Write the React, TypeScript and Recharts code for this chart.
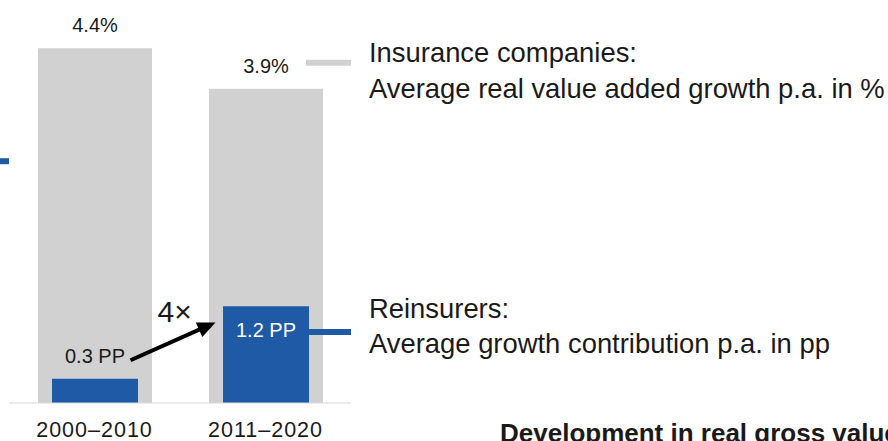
import { BarChart, Bar, XAxis, YAxis, LabelList, ReferenceLine } from 'recharts'

const periods = ['2000–2010', '2011–2020']
const insuranceGrowth = [4.4, 3.9]
const reinsurerContribution = [0.3, 1.2]
const growthMultiple = '4×'
const insuranceLegend = ['Insurance companies:', 'Average real value added growth p.a. in %']
const reinsurerLegend = ['Reinsurers:', 'Average growth contribution p.a. in pp']
const title = 'Development in real gross value added'

const data = periods.map((period, i) => ({
  period,
  insurance: insuranceGrowth[i],
  reinsurers: reinsurerContribution[i],
}))

const GRAY = '#d1d1d1'
const BLUE = '#1f5aa6'
const INK = '#1a1a1a'
const FONT = '"Liberation Sans", Arial, sans-serif'

// leader line levels, in axis units
const insuranceLeaderY = 4.22
const reinsurerLeaderY = 0.88
const edgeTickY = 3.0
const arrowFrom = 0.53
const arrowTo = 1.0

function ReinsurerLabel(props: any) {
  const { x, y, width, height, value } = props
  const inside = height > 40
  return (
    <text
      x={x + width / 2}
      y={inside ? y + 31 : y - 16}
      textAnchor="middle"
      fill={inside ? '#fff' : INK}
      fontSize={20}
      fontFamily={FONT}
    >
      {`${Number(value).toFixed(1)} PP`}
    </text>
  )
}

function GrowthArrow(props: any) {
  const { x1, y1, x2, y2 } = props
  const sx = x1 + 36
  const ex = x2 - 50
  const ang = Math.atan2(y2 - y1, ex - sx)
  const head = 18
  const half = 8
  const bx = ex - head * Math.cos(ang)
  const by = y2 - head * Math.sin(ang)
  return (
    <g>
      <line x1={sx} y1={y1} x2={bx + 2 * Math.cos(ang)} y2={by + 2 * Math.sin(ang)} stroke="#000" strokeWidth={4} />
      <polygon
        points={`${ex},${y2} ${bx + half * Math.sin(ang)},${by - half * Math.cos(ang)} ${bx - half * Math.sin(ang)},${by + half * Math.cos(ang)}`}
        fill="#000"
      />
      <text x={sx + 27} y={y2} fontSize={30} fill={INK} fontFamily={FONT}>
        {growthMultiple}
      </text>
    </g>
  )
}

function InsuranceLeader(props: any) {
  const { x2, y1 } = props
  return (
    <g>
      <line x1={x2 - 45} y1={y1} x2={x2} y2={y1} stroke={GRAY} strokeWidth={6} />
      <text x={x2 + 18} y={y1 - 0.5} fontSize={27.4} fill={INK} fontFamily={FONT}>
        {insuranceLegend[0]}
      </text>
      <text x={x2 + 18} y={y1 + 35.5} fontSize={27.4} fill={INK} fontFamily={FONT}>
        {insuranceLegend[1]}
      </text>
    </g>
  )
}

function ReinsurerLeader(props: any) {
  const { x2, y1 } = props
  return (
    <g>
      <line x1={x2 - 43} y1={y1} x2={x2} y2={y1} stroke={BLUE} strokeWidth={6} />
      <text x={x2 + 18} y={y1 - 14.5} fontSize={27.4} fill={INK} fontFamily={FONT}>
        {reinsurerLegend[0]}
      </text>
      <text x={x2 + 18} y={y1 + 20.5} fontSize={27.4} fill={INK} fontFamily={FONT}>
        {reinsurerLegend[1]}
      </text>
    </g>
  )
}

function EdgeTick(props: any) {
  const { x1, y1 } = props
  return <line x1={x1 - 9} y1={y1} x2={x1} y2={y1} stroke={BLUE} strokeWidth={6} />
}

export default function App() {
  return (
    <div style={{ position: 'absolute', left: 0, top: 0, width: 888, height: 441, overflow: 'hidden', background: '#fff' }}>
      <BarChart width={888} height={441} data={data} margin={{ top: 0, right: 537, bottom: 0, left: 9 }}>
        <XAxis
          xAxisId="g"
          dataKey="period"
          height={38}
          tickLine={false}
          tickMargin={13}
          axisLine={{ stroke: '#d9d9d9' }}
          tick={{ fill: INK, fontSize: 21.5, fontFamily: FONT, letterSpacing: 1 }}
        />
        <XAxis xAxisId="b" dataKey="period" hide height={0} />
        <YAxis hide domain={[0, 5]} />
        <Bar xAxisId="g" dataKey="insurance" fill={GRAY} barSize={114} isAnimationActive={false}>
          <LabelList
            dataKey="insurance"
            position="top"
            offset={16}
            formatter={(v: any) => `${Number(v).toFixed(1)}%`}
            fill={INK}
            fontSize={20}
            fontFamily={FONT}
          />
        </Bar>
        <Bar xAxisId="b" dataKey="reinsurers" fill={BLUE} barSize={86} isAnimationActive={false}>
          <LabelList dataKey="reinsurers" content={ReinsurerLabel} />
        </Bar>
        <ReferenceLine xAxisId="g" y={insuranceLeaderY} shape={InsuranceLeader} />
        <ReferenceLine xAxisId="g" y={reinsurerLeaderY} shape={ReinsurerLeader} />
        <ReferenceLine xAxisId="g" y={edgeTickY} shape={EdgeTick} />
        <ReferenceLine
          xAxisId="g"
          segment={[
            { x: periods[0], y: arrowFrom },
            { x: periods[1], y: arrowTo },
          ]}
          shape={GrowthArrow}
        />
      </BarChart>
      <svg width={888} height={441} style={{ position: 'absolute', left: 0, top: 0, pointerEvents: 'none' }}>
        <text x={500} y={442} fontSize={26} fontWeight="bold" fill={INK} fontFamily={FONT}>
          {title}
        </text>
      </svg>
    </div>
  )
}
